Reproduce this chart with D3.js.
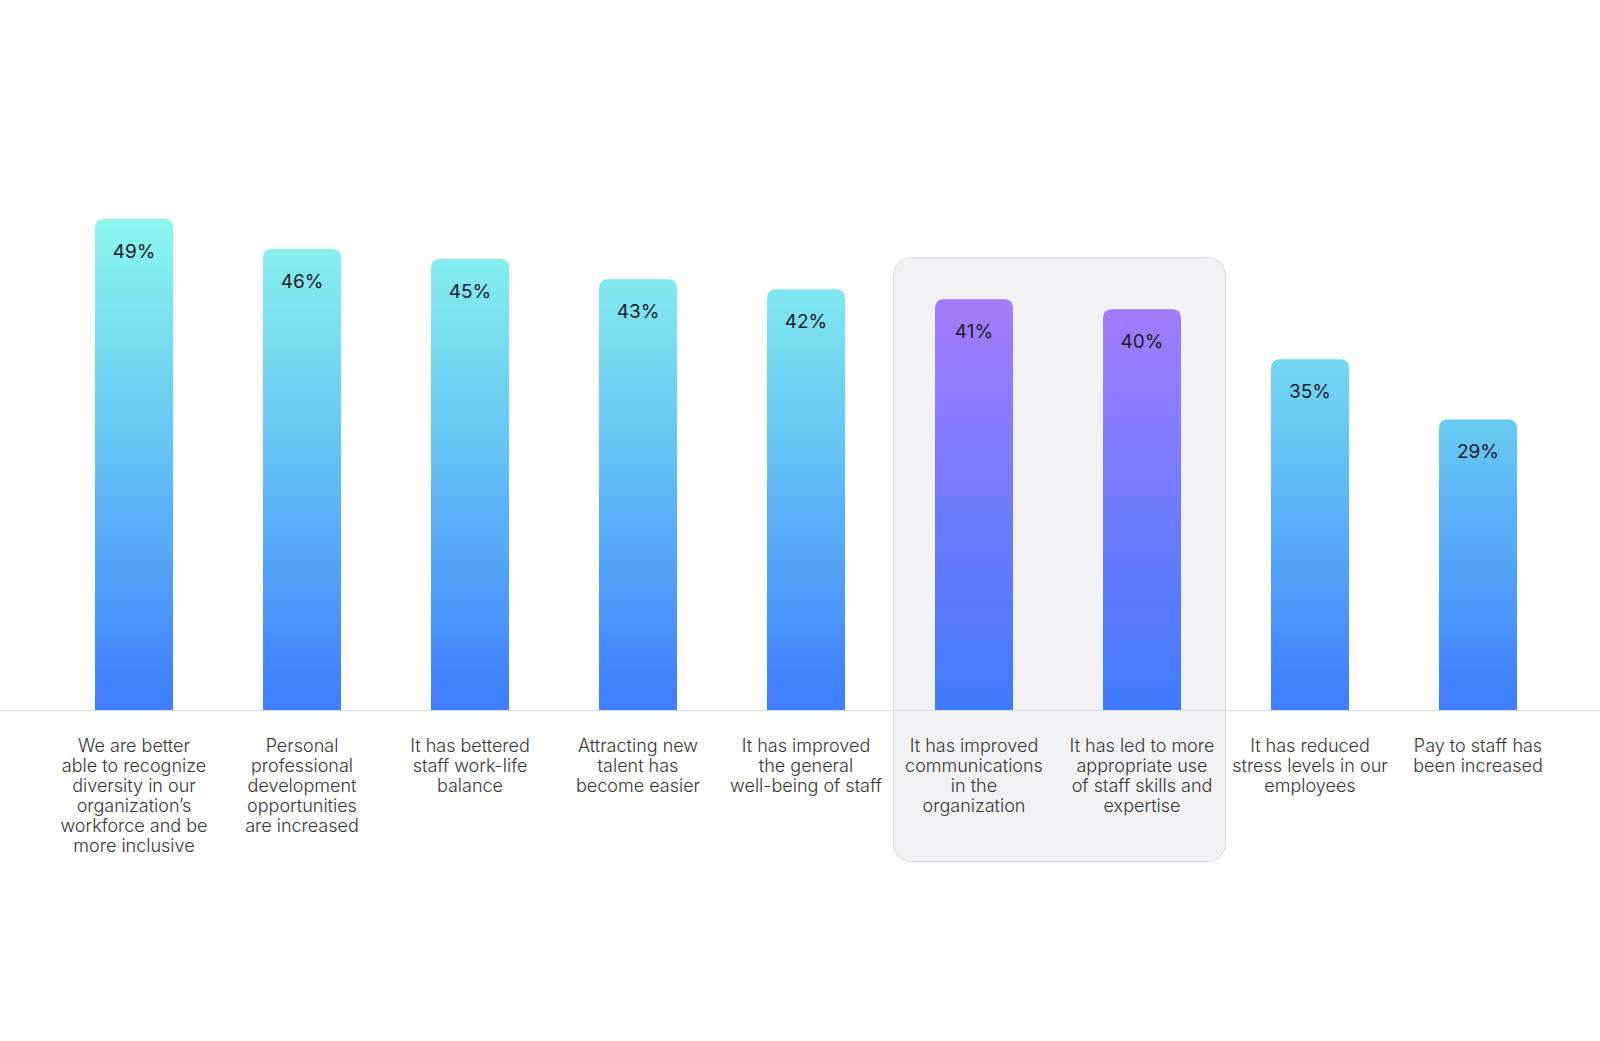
<!DOCTYPE html>
<html>
<head>
<meta charset="utf-8">
<script src="https://cdn.jsdelivr.net/npm/d3@7"></script>
<style>
  html, body { margin: 0; padding: 0; background: #fff; }
  svg { display: block; font-family: Inter, "Noto Sans", sans-serif; }
</style>
</head>
<body>
<svg id="chart" width="1600" height="1041"></svg>
<script>
// data
const categories = [
  "diversity", "development", "worklife", "talent", "wellbeing",
  "communications", "skills", "stress", "pay"
];
const values = [49, 46, 45, 43, 42, 41, 40, 35, 29];
const labelLines = [
  ["We are better", "able to recognize", "diversity in our", "organization\u2019s", "workforce and be", "more inclusive"],
  ["Personal", "professional", "development", "opportunities", "are increased"],
  ["It has bettered", "staff work-life", "balance"],
  ["Attracting new", "talent has", "become easier"],
  ["It has improved", "the general", "well-being of staff"],
  ["It has improved", "communications", "in the", "organization"],
  ["It has led to more", "appropriate use", "of staff skills and", "expertise"],
  ["It has reduced", "stress levels in our", "employees"],
  ["Pay to staff has", "been increased"]
];
const highlighted = ["communications", "skills"];

const svg = d3.select("#chart");
const width = 1600, height = 1041;
const baseY = 710;

const x = d3.scaleBand()
    .domain(categories)
    .range([50, 1562])
    .paddingInner(90 / 168)
    .paddingOuter(45 / 168);

const y = d3.scaleLinear()
    .domain([0, 50])
    .range([baseY, 209]);

const bw = x.bandwidth();

// gradients
const defs = svg.append("defs");
const gBlue = defs.append("linearGradient")
    .attr("id", "gradBlue")
    .attr("gradientUnits", "userSpaceOnUse")
    .attr("x1", 0).attr("x2", 0)
    .attr("y1", y(49)).attr("y2", baseY);
gBlue.append("stop").attr("offset", "0%").attr("stop-color", "#8cf7ee");
gBlue.append("stop").attr("offset", "45%").attr("stop-color", "#66c6f3");
gBlue.append("stop").attr("offset", "100%").attr("stop-color", "#3d7bfd");

const gPurple = defs.append("linearGradient")
    .attr("id", "gradPurple")
    .attr("gradientUnits", "userSpaceOnUse")
    .attr("x1", 0).attr("x2", 0)
    .attr("y1", y(41)).attr("y2", baseY);
gPurple.append("stop").attr("offset", "0%").attr("stop-color", "#a47cfb");
gPurple.append("stop").attr("offset", "100%").attr("stop-color", "#3e7afe");

// highlight panel behind the two purple bars
const hx0 = x(highlighted[0]) - 42;
const hx1 = x(highlighted[1]) + bw + 44;
svg.append("rect")
    .attr("x", hx0 + 0.5)
    .attr("y", y(41) - 42 + 0.5)
    .attr("width", hx1 - hx0)
    .attr("height", 861 - (y(41) - 42))
    .attr("rx", 18)
    .attr("fill", "#f2f1f4")
    .attr("stroke", "#d8d7dc")
    .attr("stroke-width", 1);

// baseline
svg.append("line")
    .attr("x1", 0).attr("x2", width)
    .attr("y1", baseY + 0.5).attr("y2", baseY + 0.5)
    .attr("stroke", "#dedede")
    .attr("stroke-width", 1);

// bars: rounded top, square bottom
const r = 9;
function barPath(d, i) {
  const x0 = x(categories[i]), x1 = x0 + bw, top = y(d);
  return "M" + x0 + "," + baseY +
         "V" + (top + r) +
         "Q" + x0 + "," + top + " " + (x0 + r) + "," + top +
         "H" + (x1 - r) +
         "Q" + x1 + "," + top + " " + x1 + "," + (top + r) +
         "V" + baseY + "Z";
}

svg.append("g").selectAll("path")
  .data(values)
  .join("path")
    .attr("d", barPath)
    .attr("fill", (d, i) => highlighted.includes(categories[i]) ? "url(#gradPurple)" : "url(#gradBlue)");

// value labels
svg.append("g").selectAll("text")
  .data(values)
  .join("text")
    .attr("x", (d, i) => x(categories[i]) + bw / 2)
    .attr("y", d => y(d) + 39)
    .attr("text-anchor", "middle")
    .attr("font-size", 19)
    .attr("fill", "#1c1c2a")
    .text(d => d + "%");

// category labels
const lab = svg.append("g").selectAll("text")
  .data(labelLines)
  .join("text")
    .attr("text-anchor", "middle")
    .attr("font-size", 18)
    .attr("font-weight", 300)
    .attr("fill", "#363636");

lab.selectAll("tspan")
  .data((d, i) => d.map(s => ({ s, cx: x(categories[i]) + bw / 2 })))
  .join("tspan")
    .attr("x", d => d.cx)
    .attr("y", (d, j) => 752 + j * 20)
    .text(d => d.s);
</script>
</body>
</html>
